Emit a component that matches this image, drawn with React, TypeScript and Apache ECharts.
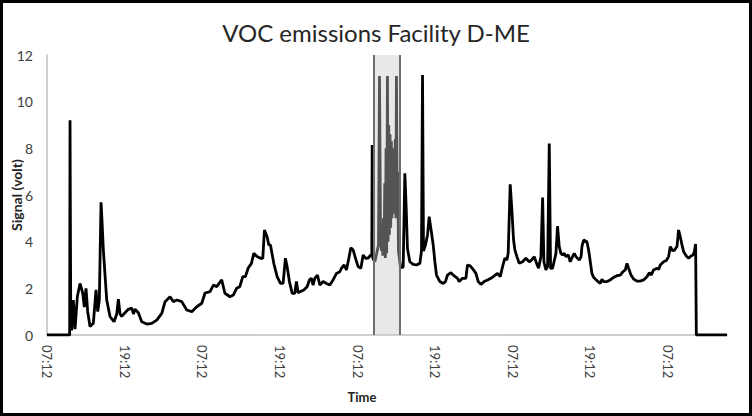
import React, { useEffect, useRef } from "react";
import * as echarts from "echarts";

// Elapsed time in hours since the first 07:12 tick
const timeHours = [
  0, 3.5, 3.56, 3.66, 3.81, 4.07, 4.33, 4.69, 5.1, 5.52, 5.77, 6.03, 6.29, 6.65, 7.16, 7.58, 7.84, 8.09,
  8.35, 8.5, 8.71, 9.23, 9.74, 10.36, 10.78, 11.03, 11.29, 11.55, 12.06, 12.57, 13.1, 13.35, 13.6, 14.12,
  14.64, 15.42, 16.19, 16.96, 17.74, 18.25, 19.02, 19.53, 20.05, 20.83, 21.6, 22.38, 23.15, 23.92, 24.43,
  25.2, 25.72, 26.23, 27.0, 27.5, 28.28, 28.8, 29.3, 29.8, 30.26, 30.67, 31.08, 31.6, 31.96, 32.47, 32.99,
  33.35, 33.61, 34.02, 34.28, 34.54, 35.05, 35.57, 36.08, 36.49, 36.85, 37.11, 37.47, 37.89, 38.3, 38.55,
  38.81, 39.17, 39.69, 40.2, 40.56, 40.87, 41.13, 41.39, 41.8, 42.17, 42.68, 43.19, 43.71, 44.22, 44.74,
  45.26, 45.51, 45.93, 46.28, 46.65, 46.96, 47.32, 47.68, 48.09, 48.51, 48.86, 49.22, 49.64, 50.05, 50.2,
  50.26, 50.36, 50.67, 51.03, 51.24, 51.39, 51.55, 51.7, 51.8, 51.9, 52.0, 52.1, 52.2, 52.3, 52.4, 52.5,
  52.62, 52.72, 52.82, 52.92, 53.02, 53.12, 53.22, 53.32, 53.42, 53.52, 53.62, 53.72, 53.82, 53.92, 54.01,
  54.12, 54.22, 54.32, 54.45, 54.63, 55.05, 55.31, 55.51, 55.71, 56.08, 56.59, 57.11, 57.63, 57.88, 58.04,
  58.19, 58.5, 58.81, 59.07, 59.33, 59.69, 59.95, 60.2, 60.72, 61.23, 61.59, 61.9, 62.42, 62.94, 63.45,
  63.71, 64.22, 64.74, 64.99, 65.41, 65.92, 66.29, 66.65, 67.06, 67.57, 68.09, 68.61, 69.12, 69.63, 70.05,
  70.41, 70.77, 71.08, 71.28, 71.59, 71.85, 72.11, 72.32, 72.63, 72.99, 73.5, 74.02, 74.53, 74.89, 75.31,
  75.67, 75.98, 76.34, 76.6, 76.8, 77.11, 77.37, 77.63, 77.83, 78.14, 78.66, 78.91, 79.17, 79.43, 79.68,
  79.94, 80.2, 80.56, 80.87, 81.23, 81.49, 81.75, 82.26, 82.55, 82.68, 82.93, 83.45, 83.71, 83.97, 84.22,
  84.48, 85.0, 85.51, 85.77, 86.03, 86.55, 87.06, 87.57, 88.09, 88.6, 89.02, 89.38, 89.64, 89.89, 90.26,
  90.66, 91.18, 91.7, 92.21, 92.73, 93.09, 93.4, 93.75, 94.28, 94.53, 94.79, 95.3, 95.72, 96.07, 96.34,
  96.69, 97.0, 97.37, 97.62, 97.88, 98.14, 98.4, 98.81, 99.17, 99.54, 99.85, 100.05, 100.25, 100.36, 105.1,
];

// Signal in volts
const signalVolts = [
  0, 0, 9.2, 1.5, 0.2, 1.5, 0.25, 1.64, 2.21, 1.8, 1.2, 2.0, 1.0, 0.36, 0.5, 1.93, 1.0, 1.5,
  5.69, 4.9, 3.64, 1.5, 0.79, 0.57, 0.9, 1.54, 0.9, 0.8, 0.95, 1.1, 1.15, 0.9, 1.1, 0.95,
  0.57, 0.47, 0.5, 0.64, 0.93, 1.43, 1.64, 1.43, 1.5, 1.43, 1.07, 1.0, 1.21, 1.36, 1.8,
  1.86, 2.14, 2.07, 2.36, 1.79, 1.64, 1.71, 2.0, 2.07, 2.5, 2.5, 2.86, 3.07, 3.5, 3.36, 3.29,
  3.29, 4.5, 4.21, 3.86, 3.86, 3.07, 2.5, 2.21, 2.21, 3.29, 2.93, 2.29, 1.79, 1.79, 2.3,
  1.81, 1.86, 1.93, 2.07, 2.36, 2.43, 2.14, 2.43, 2.57, 2.14, 2.29, 2.21, 2.14, 2.36, 2.64,
  2.71, 2.86, 3.0, 2.79, 3.29, 3.74, 3.64, 3.29, 2.93, 2.86, 3.43, 3.29, 3.3, 3.43, 3.4,
  8.14, 3.3, 3.14, 3.6, 3.86, 11.1, 4.3, 3.6, 4.6, 3.4, 5.0, 3.4, 6.5, 3.3, 8.0, 3.5,
  11.1, 4.0, 9.0, 4.3, 8.6, 4.6, 8.3, 5.0, 8.0, 5.2, 7.6, 5.3, 8.4, 5.0, 11.1,
  6.0, 7.0, 3.6, 3.3, 2.9, 2.9, 6.93, 5.5, 3.71, 3.14, 3.03, 3.0, 3.07, 3.6, 11.14,
  3.6, 3.86, 4.29, 5.07, 4.57, 3.86, 3.14, 2.57, 2.29, 2.21, 2.29, 2.57, 2.67, 2.53, 2.43,
  2.29, 2.43, 2.43, 3.0, 2.96, 2.79, 2.64, 2.29, 2.17, 2.29, 2.36, 2.43, 2.53, 2.64, 2.5,
  2.93, 3.29, 3.21, 3.5, 6.46, 5.36, 4.07, 3.64, 3.36, 3.07, 3.14, 3.29, 3.14, 3.21, 3.36,
  3.07, 2.86, 3.36, 5.89, 3.14, 2.79, 2.93, 8.21, 2.86, 2.86, 3.5, 4.67, 3.79, 3.5, 3.43,
  3.5, 3.36, 3.43, 3.14, 3.36, 3.5, 3.36, 3.21, 3.36, 3.79, 4.07, 4.0, 3.64, 3.14, 2.64,
  2.47, 2.33, 2.21, 2.39, 2.29, 2.29, 2.36, 2.47, 2.54, 2.57, 2.71, 2.79, 3.07, 2.86, 2.57,
  2.4, 2.31, 2.31, 2.36, 2.5, 2.67, 2.57, 2.79, 2.86, 2.81, 3.0, 3.14, 3.19, 3.36, 3.79,
  3.61, 3.64, 3.79, 4.5, 4.21, 3.86, 3.57, 3.39, 3.29, 3.39, 3.43, 3.57, 3.9, 0, 0,
];

const tickLabels = ["07:12", "19:12", "07:12", "19:12", "07:12", "19:12", "07:12", "19:12", "07:12"];

// Highlighted window (hours)
const highlightWindow = [50.56, 54.58];

const FONT = "Lato";

export default function App() {
  const ref = useRef<HTMLDivElement>(null);

  useEffect(() => {
    if (!ref.current) return;
    const chart = echarts.init(ref.current, undefined, { renderer: "svg" });
    const data = timeHours.map((h, i) => [h, signalVolts[i]]);
    const labelStyle = { color: "#404040", fontSize: 13, fontFamily: FONT };
    chart.setOption({
      animation: false,
      backgroundColor: "#ffffff",
      title: {
        text: "VOC emissions Facility D-ME",
        left: "center",
        top: 15,
        textStyle: { fontFamily: FONT, fontSize: 24, fontWeight: "normal", color: "#262626" },
      },
      grid: { left: 47, right: 25, top: 55, bottom: 81, outerBoundsMode: "none", containLabel: false },
      xAxis: {
        type: "value",
        min: 0,
        max: 105.1,
        interval: 12,
        name: "Time",
        nameLocation: "middle",
        nameGap: 55,
        nameMoveOverlap: false,
        nameTextStyle: { ...labelStyle, color: "#222", fontWeight: "bold", padding: [0, 50, 0, 0] },
        axisLine: { lineStyle: { color: "#bfbfbf", width: 1.5 } },
        axisTick: { show: false },
        splitLine: { show: false },
        axisLabel: {
          ...labelStyle,
          rotate: -90,
          margin: 10,
          showMaxLabel: false,
          formatter: (v: number) => tickLabels[Math.round(v / 12)] ?? "",
        },
      },
      yAxis: {
        type: "value",
        min: 0,
        max: 12,
        interval: 2,
        name: "Signal (volt)",
        nameLocation: "middle",
        nameGap: 24,
        nameMoveOverlap: false,
        nameTextStyle: { ...labelStyle, fontSize: 14, color: "#222", fontWeight: "bold" },
        axisLine: { show: true, lineStyle: { color: "#bfbfbf", width: 1.5 } },
        axisTick: { show: false },
        splitLine: { show: false },
        axisLabel: { ...labelStyle, fontSize: 14, margin: 14 },
      },
      series: [
        {
          type: "line",
          data,
          symbol: "none",
          showSymbol: false,
          lineStyle: { color: "#000000", width: 2.8 },
          z: 2,
        },
        {
          type: "line",
          data: [],
          symbol: "none",
          z: 5,
          markArea: {
            silent: true,
            z: 10,
            itemStyle: { color: "rgba(200,200,200,0.42)" },
            data: [[{ xAxis: highlightWindow[0], yAxis: 0 }, { xAxis: highlightWindow[1], yAxis: 12 }]],
          },
          markLine: {
            silent: true,
            z: 11,
            symbol: ["none", "none"],
            label: { show: false },
            lineStyle: { color: "#6e6e6e", width: 2, type: "solid" },
            data: [{ xAxis: highlightWindow[0] }, { xAxis: highlightWindow[1] }],
          },
        },
      ],
      graphic: [
        {
          type: "rect",
          silent: true,
          z: 100,
          shape: { x: 1.5, y: 1.5, width: 749, height: 413 },
          style: { fill: "none", stroke: "#000000", lineWidth: 3 },
        },
      ],
    });
    return () => chart.dispose();
  }, []);

  return <div ref={ref} style={{ position: "fixed", left: 0, top: 0, width: 752, height: 416 }} />;
}
